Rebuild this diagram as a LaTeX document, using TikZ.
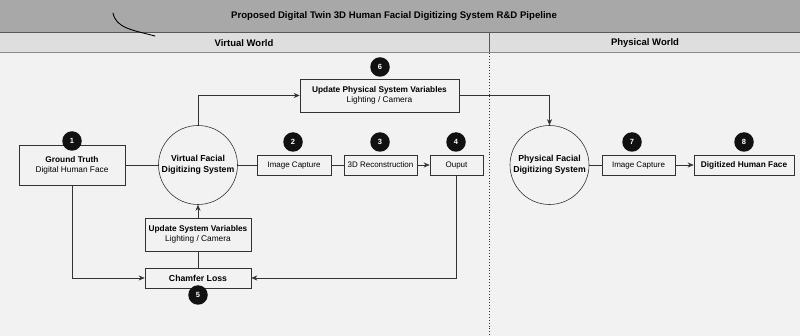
\documentclass[tikz,border=0pt]{standalone}
\usepackage{fontspec}
\setmainfont{Liberation Sans}
\usetikzlibrary{arrows.meta}
\definecolor{titlebg}{HTML}{A8A8A8}
\definecolor{headbg}{HTML}{DEDEDE}
\definecolor{bodybg}{HTML}{F2F2F2}
\definecolor{edge}{HTML}{333333}
\definecolor{badgec}{HTML}{111111}
\tikzset{
  box/.style={draw=edge, fill=bodybg, line width=0.6pt, inner sep=0pt, align=center,
    font=\fontsize{8.3}{10}\selectfont},
  onebox/.style={box, minimum height=20pt, text depth=0.3pt, font=\fontsize{8}{10}\selectfont},
  sysc/.style={draw=edge, fill=bodybg, line width=0.6pt, circle, inner sep=0pt,
    minimum size=79pt, align=center, font=\bfseries\fontsize{8.7}{11}\selectfont},
  badge/.style={circle, fill=badgec, text=white, inner sep=0pt, minimum size=19.5pt,
    font=\bfseries\fontsize{7.5}{8}\selectfont},
  conn/.style={draw=edge, line width=0.6pt},
  arr/.style={conn, -{Stealth[length=6pt,width=5pt]}},
  hdr/.style={font=\bfseries\fontsize{9.5}{11}\selectfont}
}
\begin{document}
\begin{tikzpicture}[x=1pt,y=-1pt]
\useasboundingbox (0,0) rectangle (800,336);
% backgrounds
\fill[bodybg] (0,0) rectangle (800,336);
\fill[titlebg] (0,0) rectangle (800,32);
\fill[headbg] (0,32) rectangle (800,52);
\draw[color=black!65, line width=0.8pt] (0,32) -- (800,32);
\draw[color=black!45, line width=0.6pt] (0,52) -- (800,52);
\draw[color=black!65, line width=0.6pt] (489,32) -- (489,52);
\draw[color=black!80, line width=0.9pt, dotted] (489,53) -- (489,336);
\node[hdr, font=\bfseries\fontsize{9.6}{11}\selectfont] (title) at (394,16) {Proposed Digital Twin 3D Human Facial Digitizing System R\&D Pipeline};
\node[hdr] (vw) at (244,43) {Virtual World};
\node[hdr] (pw) at (645,43) {Physical World};
% scribble
\draw[black, line width=0.9pt, line cap=round] (113,13) .. controls (116,28) and (132,30) .. (155,36);
% nodes
\node[box, minimum width=106pt, minimum height=40pt] (gt) at (72,165) {\textbf{Ground Truth}\\Digital Human Face};
\node[sysc] (vc) at (198,165) {Virtual Facial\\Digitizing System};
\node[onebox, minimum width=74pt] (img) at (294,165) {Image Capture};
\node[onebox, minimum width=73pt] (rec) at (380.5,165) {3D Reconstruction};
\node[onebox, minimum width=53pt] (out) at (456.5,165) {Ouput};
\node[box, minimum width=159pt, minimum height=33pt] (upd) at (379.5,95.5) {\textbf{Update Physical System Variables}\\Lighting / Camera};
\node[sysc] (pc) at (549.5,165) {Physical Facial\\Digitizing System};
\node[onebox, minimum width=73pt] (img2) at (638.5,165) {Image Capture};
\node[onebox, minimum width=100pt, font=\bfseries\fontsize{8.3}{10}\selectfont] (dig) at (744,165) {Digitized Human Face};
\node[box, minimum width=106pt, minimum height=33pt] (usv) at (198,234.5) {\textbf{Update System Variables}\\Lighting / Camera};
\node[onebox, minimum width=106pt, font=\bfseries\fontsize{8.7}{10}\selectfont] (cl) at (198,278) {Chamfer Loss};
% badges
\node[badge] (b1) at (72,141) {1};
\node[badge] (b2) at (293,142) {2};
\node[badge] (b3) at (380,142) {3};
\node[badge] (b4) at (456,142) {4};
\node[badge] (b5) at (198,295) {5};
\node[badge] (b6) at (380,67) {6};
\node[badge] (b7) at (632,142) {7};
\node[badge] (b8) at (744,142) {8};
% connectors
\draw[conn] (gt) -- (vc);
\draw[conn] (vc) -- (img);
\draw[conn] (img) -- (rec);
\draw[arr] (rec) -- (out);
\draw[arr] (vc.north) |- (upd.west);
\draw[arr] (upd.east) -| (pc.north);
\draw[conn] (pc) -- (img2);
\draw[arr] (img2) -- (dig);
\draw[arr] (gt.south) |- (cl.west);
\draw[arr] (out.south) |- (cl.east);
\draw[conn] (cl) -- (usv);
\draw[arr] (usv) -- (vc.south);
\end{tikzpicture}
\end{document}
